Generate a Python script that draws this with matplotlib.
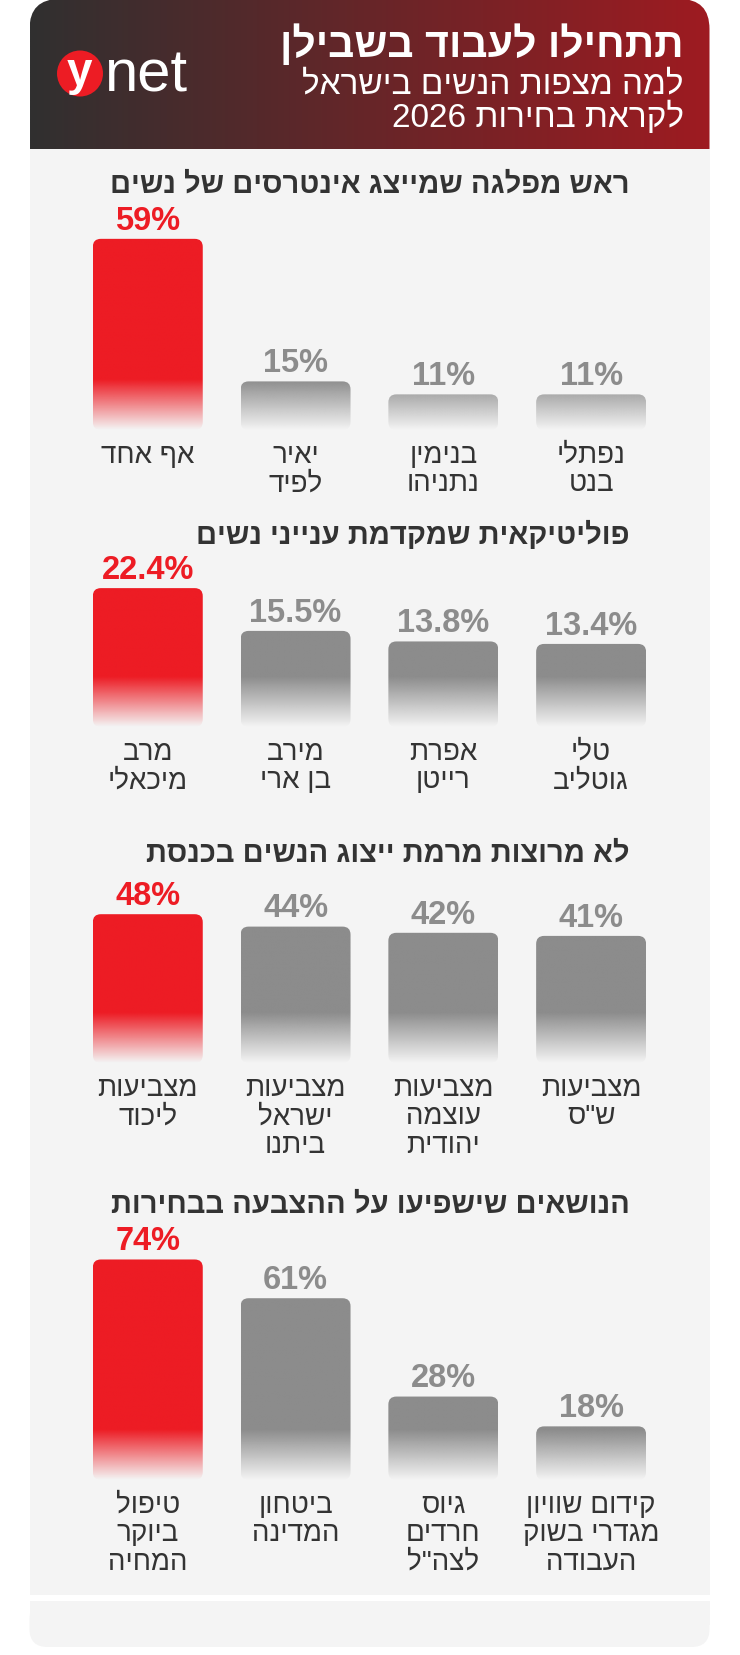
import re
import numpy as np
import matplotlib
matplotlib.use('Agg')
import matplotlib.pyplot as plt
from matplotlib.patches import FancyBboxPatch, Rectangle, Circle
from matplotlib.colors import to_rgb

W, H = 740, 1656
BG = '#f4f4f4'
RED = '#ed1c24'
GRAY = '#8c8c8c'
DARK = '#333333'

header_title = 'תתחילו לעבוד בשבילן'
header_sub = ['למה מצפות הנשים בישראל', 'לקראת בחירות 2026']

titles = [
    'ראש מפלגה שמייצג אינטרסים של נשים',
    'פוליטיקאית שמקדמת ענייני נשים',
    'לא מרוצות מרמת ייצוג הנשים בכנסת',
    'הנושאים שישפיעו על ההצבעה בבחירות',
]

labels1 = ['אף אחד', 'יאיר\nלפיד', 'בנימין\nנתניהו', 'נפתלי\nבנט']
values1 = [59, 15, 11, 11]

labels2 = ['מרב\nמיכאלי', 'מירב\nבן ארי', 'אפרת\nרייטן', 'טלי\nגוטליב']
values2 = [22.4, 15.5, 13.8, 13.4]

labels3 = ['מצביעות\nליכוד', 'מצביעות\nישראל\nביתנו', 'מצביעות\nעוצמה\nיהודית', 'מצביעות\nש"ס']
values3 = [48, 44, 42, 41]

labels4 = ['טיפול\nביוקר\nהמחיה', 'ביטחון\nהמדינה', 'גיוס\nחרדים\nלצה"ל', 'קידום שוויון\nמגדרי בשוק\nהעבודה']
values4 = [74, 61, 28, 18]


def rtl(s):
    # matplotlib has no bidi: flip each line, keep number runs left to right
    lines = []
    for line in s.split('\n'):
        r = line[::-1]
        r = re.sub(r'[0-9A-Za-z.%]+', lambda m: m.group(0)[::-1], r)
        lines.append(r)
    return '\n'.join(lines)


def px_axes(fig, x0, y0, x1, y1):
    return fig.add_axes([x0 / W, 1 - y1 / H, (x1 - x0) / W, (y1 - y0) / H])


fig = plt.figure(figsize=(W / 100, H / 100), dpi=100, facecolor='white')

# background card, drawn in pixel units
bg = px_axes(fig, 0, 0, W, H)
bg.set_xlim(0, W)
bg.set_ylim(H, 0)
bg.axis('off')

cx0, cx1 = 29.5, 709.5
head = FancyBboxPatch((cx0, 0), cx1 - cx0, 200, boxstyle='round,pad=0,rounding_size=30',
                      facecolor='none', edgecolor='none')
bg.add_patch(head)
c0, c1 = np.array(to_rgb('#303030')), np.array(to_rgb('#9e1b21'))
t = np.linspace(0, 1, 256)[None, :, None]
grad = c0 + (c1 - c0) * t
im = bg.imshow(grad, extent=(cx0, cx1, 150, 0), aspect='auto', interpolation='bilinear')
im.set_clip_path(head)
bg.add_patch(Rectangle((cx0, 150), cx1 - cx0, 1446, facecolor=BG, edgecolor='none'))
bg.add_patch(FancyBboxPatch((cx0, 1602), cx1 - cx0, 46, boxstyle='round,pad=0,rounding_size=18',
                            facecolor=BG, edgecolor='none'))
bg.add_patch(Rectangle((cx0, 1602), cx1 - cx0, 24, facecolor=BG, edgecolor='none'))
bg.set_xlim(0, W)
bg.set_ylim(H, 0)

# header text
bg.text(684, 44, rtl(header_title), ha='right', va='center', color='white',
        fontsize=29.5, fontweight='bold', family='Liberation Sans')
bg.text(684, 85, rtl(header_sub[0]), ha='right', va='center', color='white',
        fontsize=24, family='Liberation Sans')
bg.text(684, 117, rtl(header_sub[1]), ha='right', va='center', color='white',
        fontsize=24, family='Liberation Sans')

# ynet logo
bg.add_patch(Circle((80, 74.5), 23, facecolor=RED, edgecolor='none'))
bg.text(79, 85, 'y', ha='center', va='baseline', color='white', fontsize=33,
        fontweight='bold', family='Liberation Sans')
bg.text(104, 92, 'net', ha='left', va='baseline', color='white', fontsize=43,
        family='Liberation Sans')

sections = [
    (titles[0], labels1, values1, 185, 431, 3.24),
    (titles[1], labels2, values2, 535, 728, 6.2),
    (titles[2], labels3, values3, 854, 1064, 3.1),
    (titles[3], labels4, values4, 1205, 1481, 2.98),
]

step = 147.8
for title, labels, values, title_y, base, scale in sections:
    bg.text(630, title_y, rtl(title), ha='right', va='center', color=DARK,
            fontsize=21, fontweight='bold', family='Liberation Sans')

    top = base - 270
    ax = px_axes(fig, 147.8 - step / 2, top, 591.1 + step / 2, base)
    ax.patch.set_visible(False)
    x = np.arange(len(values))
    bars = ax.bar(x, values, width=0.744, color='none')
    fade = 50 / scale
    for i, (rect, v) in enumerate(zip(bars, values)):
        color = RED if i == 0 else GRAY
        x0, w, h = rect.get_x(), rect.get_width(), rect.get_height()
        r = 8 / step
        patch = FancyBboxPatch((x0, 0), w, h, boxstyle=f'round,pad=0,rounding_size={r}',
                               mutation_aspect=step / scale, facecolor='none', edgecolor='none')
        ax.add_patch(patch)
        yy = np.linspace(0, h, 300)
        alpha = np.clip(yy / fade, 0, 1)
        img = np.zeros((300, 1, 4))
        img[:, 0, :3] = to_rgb(color)
        img[:, 0, 3] = alpha
        bim = ax.imshow(img, extent=(x0, x0 + w, 0, h), origin='lower', aspect='auto',
                        interpolation='bilinear', zorder=2)
        bim.set_clip_path(patch)
        ax.annotate(f'{v:g}%', (x[i], v), xytext=(0, 13.5), textcoords='offset points',
                    ha='center', va='center', fontsize=23.5, fontweight='bold',
                    color=color, family='Liberation Sans')

    ax.set_xlim(-0.5, len(values) - 0.5)
    ax.set_ylim(0, (base - top) / scale)
    ax.set_xticks(x, [rtl(l) for l in labels], family='Liberation Sans',
                  fontsize=20, color=DARK, linespacing=1.12)
    ax.tick_params(axis='x', length=0, pad=8.5)
    ax.set_yticks([])
    for s in ax.spines.values():
        s.set_visible(False)

fig.savefig('out.png', dpi=100, facecolor='white')
